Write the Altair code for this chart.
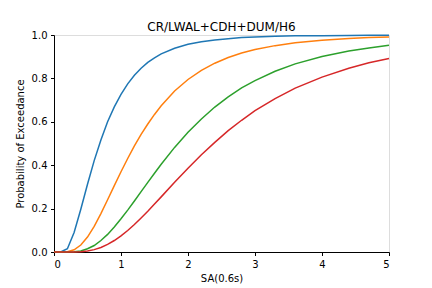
import altair as alt
import pandas as pd

sa = [0.0, 0.1, 0.2, 0.3, 0.4, 0.5, 0.6, 0.7, 0.8, 0.9, 1.0, 1.1, 1.2, 1.3, 1.4,
      1.5, 1.6, 1.8, 2.0, 2.2, 2.4, 2.6, 2.8, 3.0, 3.3, 3.6, 4.0, 4.4, 4.7, 5.0]

ds1 = [0.0, 0.0, 0.015, 0.090, 0.197, 0.312, 0.421, 0.516, 0.600, 0.669, 0.726,
       0.775, 0.814, 0.847, 0.874, 0.895, 0.913, 0.939, 0.957, 0.969, 0.977, 0.983,
       0.988, 0.991, 0.994, 0.996, 0.997, 0.998, 0.999, 0.999]
ds2 = [0.0, 0.0, 0.001, 0.010, 0.032, 0.069, 0.118, 0.177, 0.241, 0.306, 0.370,
       0.431, 0.489, 0.542, 0.590, 0.634, 0.674, 0.742, 0.795, 0.837, 0.870, 0.896,
       0.917, 0.933, 0.951, 0.964, 0.976, 0.984, 0.988, 0.991]
ds3 = [0.0, 0.0, 0.0, 0.001, 0.005, 0.015, 0.030, 0.053, 0.081, 0.115, 0.153,
       0.193, 0.235, 0.278, 0.321, 0.363, 0.404, 0.482, 0.552, 0.613, 0.668, 0.715,
       0.756, 0.790, 0.833, 0.867, 0.901, 0.926, 0.940, 0.953]
ds4 = [0.0, 0.0, 0.0, 0.0, 0.001, 0.005, 0.011, 0.021, 0.035, 0.053, 0.074,
       0.099, 0.127, 0.157, 0.188, 0.221, 0.254, 0.321, 0.386, 0.448, 0.505, 0.559,
       0.607, 0.651, 0.707, 0.755, 0.806, 0.847, 0.872, 0.892]

series_names = ["DS1", "DS2", "DS3", "DS4"]
series_vals = [ds1, ds2, ds3, ds4]
colors = ["#1f77b4", "#ff7f0e", "#2ca02c", "#d62728"]

rows = []
for name, vals in zip(series_names, series_vals):
    for x, y in zip(sa, vals):
        rows.append({"sa": x, "p": y, "ds": name})
df = pd.DataFrame(rows)

font = "DejaVu Sans"

chart = alt.Chart(df).mark_line(strokeWidth=1.5).encode(
    x=alt.X("sa:Q", scale=alt.Scale(domain=[0, 5], nice=False, zero=False),
            axis=alt.Axis(title="SA(0.6s)", values=[0, 1, 2, 3, 4, 5], format="d",
                          grid=False, tickSize=3.5, labelPadding=3.5,
                          titlePadding=4, domainColor="black", tickColor="black",
                          labelColor="black", titleColor="black",
                          labelFont=font, titleFont=font, labelFontSize=10,
                          titleFontSize=10, titleFontWeight="normal")),
    y=alt.Y("p:Q", scale=alt.Scale(domain=[0, 1], nice=False),
            axis=alt.Axis(title="Probability of Exceedance",
                          values=[0, 0.2, 0.4, 0.6, 0.8, 1.0], format=".1f",
                          grid=False, tickSize=3.5, labelPadding=3.5,
                          titlePadding=6, domainColor="black", tickColor="black",
                          labelColor="black", titleColor="black",
                          labelFont=font, titleFont=font, labelFontSize=10,
                          titleFontSize=10, titleFontWeight="normal")),
    color=alt.Color("ds:N", scale=alt.Scale(domain=series_names, range=colors),
                    legend=None),
).properties(
    width=335,
    height=217,
    title=alt.TitleParams("CR/LWAL+CDH+DUM/H6", font=font, fontSize=12,
                          fontWeight="normal", color="black", offset=-4),
    autosize=alt.AutoSizeParams(type="none"),
    padding={"left": 54, "top": 35, "right": 43, "bottom": 36},
).configure_view(
    stroke="black", strokeWidth=1
).configure(background="white")

chart.save("out.html", embed_options={"renderer": "svg", "actions": False})
